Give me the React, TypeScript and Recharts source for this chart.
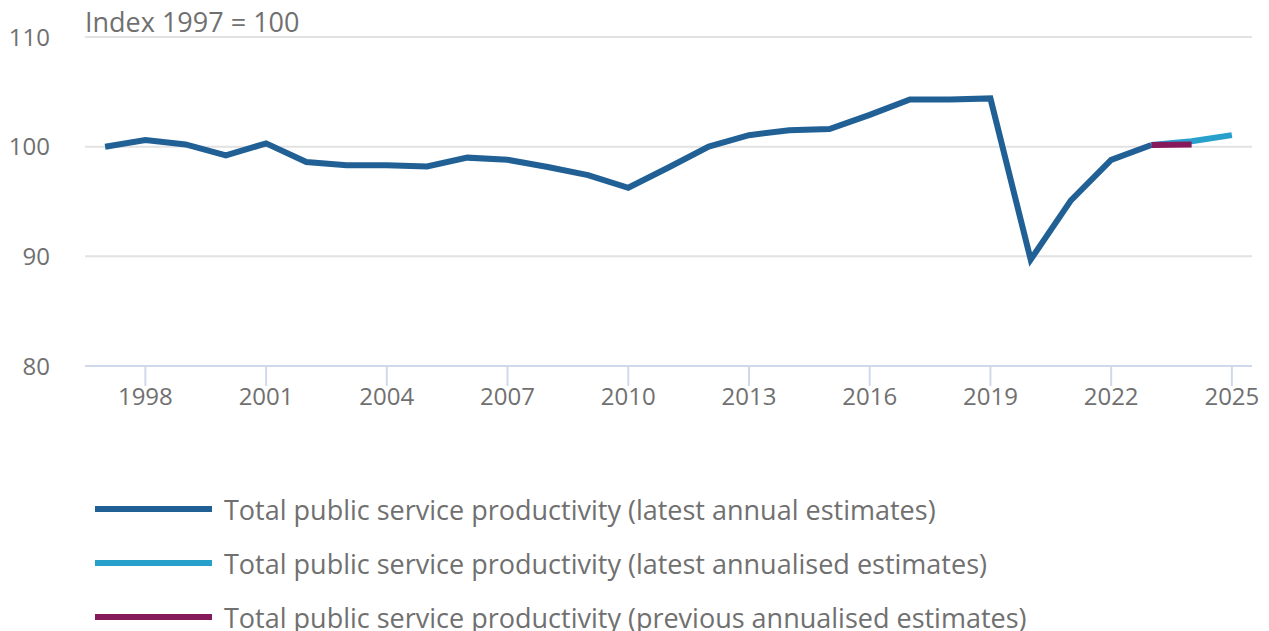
import React from 'react';
import { LineChart, Line, XAxis, YAxis, CartesianGrid } from 'recharts';

const years = [
  1997, 1998, 1999, 2000, 2001, 2002, 2003, 2004, 2005, 2006, 2007, 2008, 2009, 2010, 2011,
  2012, 2013, 2014, 2015, 2016, 2017, 2018, 2019, 2020, 2021, 2022, 2023, 2024, 2025,
];

const latestAnnual = [
  100, 100.6, 100.2, 99.2, 100.3, 98.6, 98.3, 98.3, 98.2, 99.0, 98.8, 98.15, 97.4, 96.25, 98.1,
  100.0, 101.05, 101.5, 101.6, 102.9, 104.3, 104.3, 104.4, 89.7, 95.1, 98.8, 100.15, null, null,
];

const latestAnnualised = [
  null, null, null, null, null, null, null, null, null, null, null, null, null, null, null,
  null, null, null, null, null, null, null, null, null, null, null, 100.15, 100.5, 101.05,
];

const previousAnnualised = [
  null, null, null, null, null, null, null, null, null, null, null, null, null, null, null,
  null, null, null, null, null, null, null, null, null, null, null, 100.15, 100.2, null,
];

const xTicks = [1998, 2001, 2004, 2007, 2010, 2013, 2016, 2019, 2022, 2025];
const yTicks = [80, 90, 100, 110];

const series = [
  { key: 'annual', name: 'Total public service productivity (latest annual estimates)', color: '#206095' },
  { key: 'annualised', name: 'Total public service productivity (latest annualised estimates)', color: '#27a0cc' },
  { key: 'previous', name: 'Total public service productivity (previous annualised estimates)', color: '#871a5b' },
];

const data = years.map((year, i) => ({
  year,
  annual: latestAnnual[i],
  annualised: latestAnnualised[i],
  previous: previousAnnualised[i],
}));

const font = '"Open Sans", sans-serif';
const textColor = '#707070';

export default function App() {
  // cancel the body margin so positions match the page
  return (
    <div style={{ position: 'relative', margin: '-8px 0 0 -8px', width: 1269, height: 631, fontFamily: font }}>
      <div style={{ position: 'absolute', left: 85, top: 3, fontSize: 27, color: textColor, whiteSpace: 'nowrap' }}>
        Index 1997 = 100
      </div>
      <LineChart
        width={1269}
        height={448}
        data={data}
        margin={{ top: 37, right: 17, left: 0, bottom: 32 }}
      >
        <CartesianGrid vertical={false} stroke="#e2e2e3" strokeWidth={2} />
        <XAxis
          dataKey="year"
          type="number"
          domain={[1996.5, 2025.5]}
          ticks={xTicks}
          interval={0}
          height={50}
          tickSize={20}
          tickMargin={2}
          axisLine={{ stroke: '#d0d9ec', strokeWidth: 2 }}
          tickLine={{ stroke: '#d0d9ec', strokeWidth: 2 }}
          tick={{ fill: textColor, fontSize: 24, fontFamily: font }}
        />
        <YAxis
          domain={[80, 110]}
          ticks={yTicks}
          width={85}
          axisLine={false}
          tickLine={false}
          tickSize={0}
          tickMargin={35}
          tick={{ fill: textColor, fontSize: 24, fontFamily: font }}
        />
        {series.map((s) => (
          <Line
            key={s.key}
            dataKey={s.key}
            name={s.name}
            type="linear"
            stroke={s.color}
            strokeWidth={6}
            dot={false}
            activeDot={false}
            connectNulls={false}
            isAnimationActive={false}
          />
        ))}
      </LineChart>
      <div style={{ position: 'absolute', left: 95, top: 482 }}>
        {series.map((s) => (
          <div key={s.key} style={{ display: 'flex', alignItems: 'center', height: 54 }}>
            <div style={{ width: 117, height: 6, background: s.color, marginRight: 12 }} />
            <span style={{ fontSize: 27, color: textColor, whiteSpace: 'nowrap' }}>{s.name}</span>
          </div>
        ))}
      </div>
    </div>
  );
}
